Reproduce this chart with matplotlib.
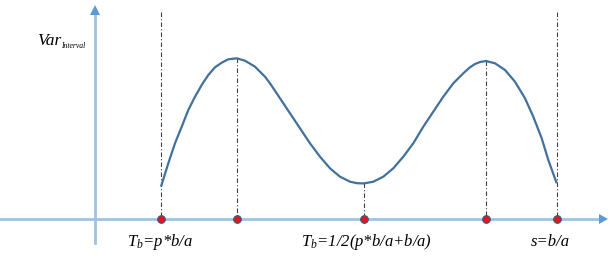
import matplotlib.pyplot as plt

# curve (pixel coords, y downwards)
curve_x = [161, 168.3, 175, 181.7, 188.3, 195, 201.7, 208.3, 215, 221.7, 228.3, 236.7,
           245, 255, 265, 270, 280, 290, 300, 310, 320, 330, 340, 350, 357, 364,
           373.3, 383.3, 393.3, 403.3, 413.3, 423.3, 433.3, 443.3, 453.3, 463.3, 470,
           475, 480, 486, 495, 505, 515, 525, 533.3, 541.7, 548.3, 556.7]
curve_y = [186.7, 163.3, 143.3, 126.7, 110, 96.7, 85, 75, 67.3, 62.7, 59.3, 58.3,
           60.7, 66.7, 76.7, 83.3, 98.3, 113.3, 128.3, 143.3, 156.7, 168.3, 176.7, 181.7, 183.2, 183.4,
           181.7, 176.7, 168.3, 156.7, 143.3, 126.7, 111.7, 96.7, 83.3, 73.3, 67.3,
           64, 62, 61, 63.3, 70, 81.7, 98.3, 116.7, 138.3, 160, 183.3]

# marked points on the x axis and where their guide lines start
mark_x = [161, 237, 364, 486, 557]
guide_top = [12, 58.3, 183.4, 61, 12]

labels = ['T$_b$=p*b/a', 'T$_b$=1/2(p*b/a+b/a)', 's=b/a']
label_x = [127, 301, 531]

axis_y = 219
axis_x = 95

plt.rcParams['mathtext.fontset'] = 'custom'
plt.rcParams['mathtext.it'] = 'Liberation Serif:italic'
plt.rcParams['mathtext.rm'] = 'Liberation Serif:italic'

fig = plt.figure(figsize=(6.1, 2.61), dpi=100)
ax = fig.add_axes([0, 0, 1, 1])
ax.set_xlim(0, 610)
ax.set_ylim(261, 0)
ax.axis('off')

axis_col = '#9dc3e6'
arrow_col = '#5b9bd5'

# axes lines
ax.plot([0, 600], [axis_y, axis_y], color=axis_col, lw=2, zorder=1)
ax.plot([axis_x, axis_x], [243, 14], color=axis_col, lw=2, zorder=1)
ax.fill([599, 608, 599], [axis_y - 5, axis_y, axis_y + 5], color=arrow_col, lw=0)
ax.fill([axis_x - 5, axis_x, axis_x + 5], [15, 5, 15], color=arrow_col, lw=0)

# guide lines
for x, t in zip(mark_x, guide_top):
    ax.plot([x, x], [t, axis_y], color='#404040', lw=0.8, ls=(0, (4, 2, 1, 2)), zorder=2)

ax.plot(curve_x, curve_y, color='#41719c', lw=1.6, solid_capstyle='butt',
        solid_joinstyle='round', zorder=3)

ax.scatter(mark_x, [axis_y] * len(mark_x), s=30, color='#e8141b',
           edgecolors='#2e5a87', linewidths=0.8, zorder=4)

for s, x in zip(labels, label_x):
    ax.text(x, 242, s, fontsize=12, ha='left', va='center', color='black',
            family='Liberation Serif', style='italic')

ax.text(37, 41, 'Var', fontsize=12.5, ha='left', va='center',
        family='Liberation Serif', style='italic')
ax.text(61, 46, 'Interval', fontsize=5.5, ha='left', va='center',
        family='Liberation Serif', style='italic')

fig.savefig('out.png', dpi=100)
